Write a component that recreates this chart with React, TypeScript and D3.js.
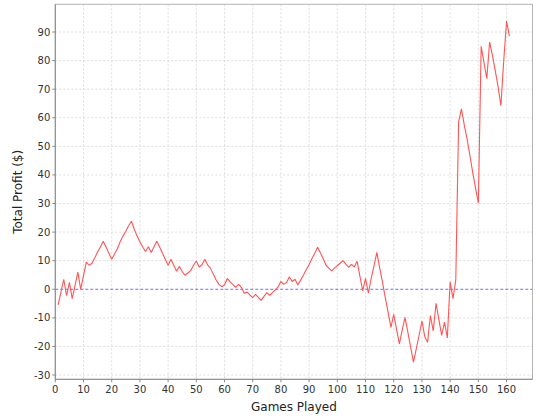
import React from "react";
import * as d3 from "d3";

const games: number[] = Array.from({ length: 161 }, (_, i) => i + 1);
const profit: number[] = [
  -5.5, -1.0, 3.5, -2.2, 2.4, -3.3, 1.3, 6.0, 0.0, 4.8,
  9.5, 8.4, 9.1, 11.0, 13.0, 14.8, 16.8, 14.8, 12.6, 10.5,
  12.3, 14.2, 16.6, 18.6, 20.3, 22.2, 23.8, 21.0, 18.6, 16.6,
  14.8, 13.2, 14.9, 12.9, 14.9, 16.8, 14.8, 12.6, 10.5, 8.4,
  10.5, 8.4, 6.3, 8.0, 6.2, 4.9, 5.7, 6.5, 8.4, 9.9,
  7.8, 8.5, 10.5, 8.5, 7.4, 5.3, 3.3, 1.7, 0.9, 1.6,
  3.8, 2.6, 1.6, 0.7, 1.7, 0.6, -1.4, -1.0, -2.0, -2.9,
  -1.8, -2.8, -3.9, -2.5, -1.2, -2.1, -1.2, -0.2, 0.8, 2.8,
  1.7, 2.4, 4.4, 2.7, 3.5, 1.5, 3.2, 5.0, 6.9, 8.7,
  10.8, 12.6, 14.7, 12.8, 10.7, 8.4, 7.4, 6.4, 7.4, 8.3,
  9.1, 10.0, 8.8, 7.7, 8.7, 7.8, 9.8, 4.6, -0.6, 3.8,
  -1.4, 3.7, 8.2, 12.9, 7.6, 2.5, -2.9, -8.0, -13.3, -8.8,
  -14.0, -19.1, -14.3, -9.8, -15.0, -20.3, -25.5, -20.8, -16.0, -11.1,
  -16.6, -18.5, -9.2, -14.6, -4.9, -10.6, -16.1, -11.5, -17.0, 2.6,
  -3.3, 3.3, 58.6, 63.1, 57.5, 52.6, 46.8, 40.9, 35.4, 30.1,
  85.0, 79.3, 73.7, 86.5, 81.8, 76.4, 70.9, 64.2, 80.0, 93.8,
  88.6,
];
const xTicks: number[] = [0, 10, 20, 30, 40, 50, 60, 70, 80, 90, 100, 110, 120, 130, 140, 150, 160];
const yTicks: number[] = [-30, -20, -10, 0, 10, 20, 30, 40, 50, 60, 70, 80, 90];

const W = 540;
const H = 420;
const L = 55.3;
const R = 532.5;
const T = 4.3;
const B = 379.3;

export default function App() {
  const x = d3.scaleLinear().domain([0, 169.2]).range([L, R]);
  const y = d3.scaleLinear().domain([-31.5, 99.7]).range([B, T]);
  const data = games.map((g, i) => [g, profit[i]] as [number, number]);
  const line = d3
    .line<[number, number]>()
    .x((d) => x(d[0]))
    .y((d) => y(d[1]));
  const font = "'DejaVu Sans', sans-serif";
  return (
    <svg
      width={W}
      height={H}
      style={{ position: "absolute", left: 0, top: 0, background: "#fff" }}
    >
      <rect x={0} y={0} width={W} height={H} fill="#fff" />
      <rect x={L} y={T} width={R - L} height={B - T} fill="#fff" />
      {xTicks.map((t) => (
        <line
          key={"gx" + t}
          x1={x(t)}
          x2={x(t)}
          y1={T}
          y2={B}
          stroke="#d4d4d4"
          strokeWidth={0.8}
          strokeDasharray="2,2"
        />
      ))}
      {yTicks
        .filter((t) => t !== 0)
        .map((t) => (
          <line
            key={"gy" + t}
            x1={L}
            x2={R}
            y1={y(t)}
            y2={y(t)}
            stroke="#d4d4d4"
            strokeWidth={0.8}
            strokeDasharray="2,2"
          />
        ))}
      <line
        x1={L}
        x2={R}
        y1={y(0)}
        y2={y(0)}
        stroke="#4a4aff"
        strokeWidth={0.8}
        strokeDasharray="3,2"
      />
      <path
        d={line(data) || ""}
        fill="none"
        stroke="#ff5555"
        strokeWidth={1.1}
        strokeLinejoin="bevel"
      />
      <rect
        x={L}
        y={T}
        width={R - L}
        height={B - T}
        fill="none"
        stroke="#b4b4b4"
        strokeWidth={1}
      />
      <line x1={L} x2={L} y1={T} y2={B} stroke="#8a8a8a" strokeWidth={1} />
      <line x1={L} x2={R} y1={B} y2={B} stroke="#8a8a8a" strokeWidth={1} />
      {yTicks.map((t) => (
        <g key={"ty" + t}>
          <line x1={L - 3} x2={L} y1={y(t)} y2={y(t)} stroke="#8a8a8a" />
          <text
            x={L - 5}
            y={y(t)}
            dy="0.35em"
            textAnchor="end"
            fontFamily={font}
            fontSize={10}
            fill="#333"
          >
            {t}
          </text>
        </g>
      ))}
      {xTicks.map((t) => (
        <g key={"tx" + t}>
          <line x1={x(t)} x2={x(t)} y1={B} y2={B + 3} stroke="#8a8a8a" />
          <text
            x={x(t)}
            y={B + 14}
            textAnchor="middle"
            fontFamily={font}
            fontSize={10}
            fill="#333"
          >
            {t}
          </text>
        </g>
      ))}
      <text
        x={(L + R) / 2}
        y={411}
        textAnchor="middle"
        fontFamily={font}
        fontSize={12}
        fill="#222"
      >
        Games Played
      </text>
      <text
        transform={`translate(22,${(T + B) / 2}) rotate(-90)`}
        textAnchor="middle"
        fontFamily={font}
        fontSize={12}
        fill="#222"
      >
        Total Profit ($)
      </text>
    </svg>
  );
}
